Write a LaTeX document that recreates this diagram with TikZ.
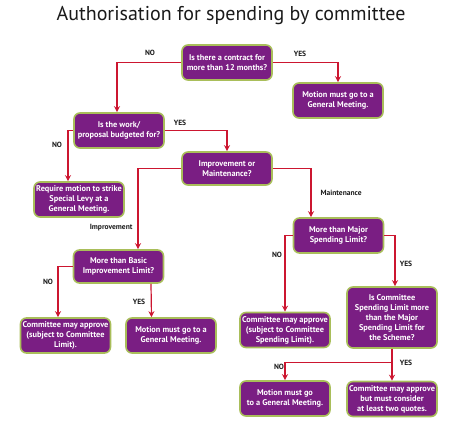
\documentclass[tikz,border=0pt]{standalone}
\usepackage{fontspec}
\setmainfont{PT Sans}
\usetikzlibrary{arrows.meta,positioning}
\definecolor{Plum}{HTML}{7A1E83}
\definecolor{Leaf}{HTML}{A9BE5A}
\definecolor{Wire}{HTML}{CC1630}
\definecolor{Ink}{HTML}{1A1A1A}

\tikzset{
  box/.style={draw=Leaf,line width=1.6pt,fill=Plum,rounded corners=6pt,
    text=white,font=\bfseries\fontsize{8.3}{10}\selectfont,align=center,
    minimum width=90pt,minimum height=35pt,inner sep=2pt},
  lbl/.style={text=Ink,font=\bfseries\fontsize{7.5}{9}\selectfont},
  flow/.style={draw=Wire,line width=1.2pt,-{Stealth[length=6pt,width=6pt]}},
  wire/.style={draw=Wire,line width=1.2pt}
}

\begin{document}
\begin{tikzpicture}[x=1pt,y=-1pt]
    \useasboundingbox (0,0) rectangle (464,426);
    \node[font=\fontsize{20}{24}\selectfont,text=Ink] (title) at (231,16) {Authorisation for spending by committee};

    % questions
    \node[box] (contract) at (227,62.5) {Is there a contract for\\more than 12 months?};
    \node[box] (budget) at (119,130.5) {Is the work/\\proposal budgeted for?};
    \node[box,minimum height=33pt] (kind) at (227,168.5) {Improvement or\\Maintenance?};
    \node[box,minimum height=33pt] (basic) at (118.5,266.5) {More than Basic\\Improvement Limit?};
    \node[box] (major) at (338.5,235.5) {More than Major\\Spending Limit?};
    \node[box,minimum height=61pt] (scheme) at (392,317.5) {Is Committee\\Spending Limit more\\than the Major\\Spending Limit for\\the Scheme?};

    % outcomes
    \node[box] (gm1) at (338,100.5) {Motion must go to a\\General Meeting.};
    \node[box] (levy) at (79,199.5) {Require motion to strike\\Special Levy at a\\General Meeting.};
    \node[box] (climit) at (65.5,335.5) {Committee may approve\\(subject to Committee\\Limit).};
    \node[box] (gm2) at (171,335.5) {Motion must go to a\\General Meeting.};
    \node[box] (cspend) at (285,330) {Committee may approve\\(subject to Committee\\Spending Limit).};
    \node[box] (gm3) at (285,398.5) {Motion must go\\to a General Meeting.};
    \node[box] (quotes) at (392,399) {Committee may approve\\but must consider\\at least two quotes.};

    % connectors
    \draw[flow] (contract.west) -| ([xshift=-2pt]budget.north);
    \draw[flow] (contract.east) -| (gm1.north);
    \draw[flow] (budget.west) -| ([xshift=-11pt]levy.north);
    \draw[flow] (budget.east) -| (kind.north);
    \draw[flow] (kind.west) -| ([xshift=19.5pt]basic.north);
    \draw[flow] (kind.east) -| ([xshift=-27.5pt]major.north);
    \draw[flow] (basic.west) -| ([xshift=-7.5pt]climit.north);
    \draw[flow] ([xshift=32.5pt]basic.south) -- ([xshift=-19.5pt]gm2.north);
    \draw[flow] (major.west) -| (cspend.north);
    \draw[flow] (major.east) -| ([xshift=3pt]scheme.north);
    \coordinate (split) at ([yshift=-14pt]scheme.south);
    \draw[wire] (scheme.south) -- (split);
    \draw[flow] (split) -| (gm3.north);
    \draw[flow] (split) -- (quotes.north);

    % labels
    \node[lbl] (n1) at (150,53) {NO};
    \node[lbl] (y1) at (300,54) {YES};
    \node[lbl] (n2) at (57,145) {NO};
    \node[lbl] (y2) at (180,123) {YES};
    \node[lbl,anchor=east] (imp) at (136,228) {Improvement};
    \node[lbl,anchor=west] (mnt) at (317,193) {Maintenance};
    \node[lbl] (n3) at (48,282) {NO};
    \node[lbl] (y3) at (139,302) {YES};
    \node[lbl] (n4) at (277,255) {NO};
    \node[lbl] (y4) at (406,264) {YES};
    \node[lbl] (n5) at (279,367) {NO};
    \node[lbl] (y5) at (406,363) {YES};
  \end{tikzpicture}
\end{document}
